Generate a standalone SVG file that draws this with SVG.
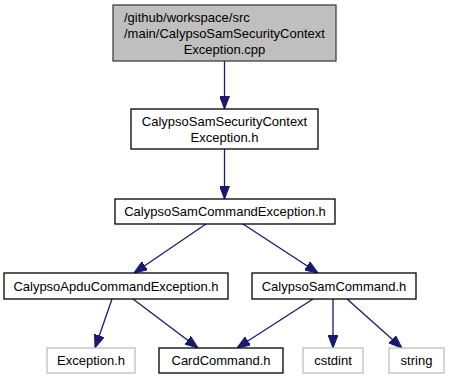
<svg xmlns="http://www.w3.org/2000/svg" width="449" height="380" viewBox="0 0 449 380">
  <defs>
    <style>
      .node rect { fill: #ffffff; stroke: #000000; stroke-width: 1.3; }
      .node.main rect { fill: #bfbfbf; stroke: #404040; }
      .node.ext rect { stroke: #bfbfbf; }
      .node text { font-family: "Liberation Sans", Arial, sans-serif; font-size: 13px; fill: #000000; }
      .c { text-anchor: middle; }
      .edges path { fill: none; stroke: #191970; stroke-width: 1.3; }
    </style>
    <marker id="arrow" viewBox="0 0 13 10" refX="13" refY="5" markerWidth="13" markerHeight="10" markerUnits="userSpaceOnUse" orient="auto">
      <path d="M0,0 L13,5 L0,10 Z" fill="#191970" stroke="#191970"/>
    </marker>
  </defs>
  <rect width="449" height="380" fill="#ffffff"/>

  <g class="edges">
    <path d="M224.5,61 L224.5,109" marker-end="url(#arrow)"/>
    <path d="M224.5,149 L224.5,199" marker-end="url(#arrow)"/>
    <path d="M206,224 L134,273" marker-end="url(#arrow)"/>
    <path d="M243,224 L318,273" marker-end="url(#arrow)"/>
    <path d="M112,299 L95,348" marker-end="url(#arrow)"/>
    <path d="M133,299 L198,348" marker-end="url(#arrow)"/>
    <path d="M313,299 L237,348" marker-end="url(#arrow)"/>
    <path d="M333,299 L333,348" marker-end="url(#arrow)"/>
    <path d="M347,299 L402,348" marker-end="url(#arrow)"/>
  </g>

  <g id="node-main" class="node main">
    <rect x="113" y="5" width="223" height="56"/>
    <text x="124" y="22">/github/workspace/src</text>
    <text x="124" y="38">/main/CalypsoSamSecurityContext</text>
    <text x="224.5" y="54" class="c">Exception.cpp</text>
  </g>
  <g id="node-security-context" class="node">
    <rect x="131" y="109" width="187" height="40"/>
    <text x="224.5" y="126" class="c">CalypsoSamSecurityContext</text>
    <text x="224.5" y="142" class="c">Exception.h</text>
  </g>
  <g id="node-sam-command-exception" class="node">
    <rect x="115" y="199" width="220" height="25"/>
    <text x="225" y="216" class="c">CalypsoSamCommandException.h</text>
  </g>
  <g id="node-apdu-command-exception" class="node">
    <rect x="4" y="273" width="224" height="26"/>
    <text x="116" y="290.5" class="c">CalypsoApduCommandException.h</text>
  </g>
  <g id="node-sam-command" class="node">
    <rect x="252" y="273" width="164" height="26"/>
    <text x="334" y="290.5" class="c">CalypsoSamCommand.h</text>
  </g>
  <g id="node-exception" class="node ext">
    <rect x="47" y="348" width="88" height="25"/>
    <text x="91" y="365" class="c">Exception.h</text>
  </g>
  <g id="node-card-command" class="node">
    <rect x="159" y="348" width="124" height="25"/>
    <text x="221" y="365" class="c">CardCommand.h</text>
  </g>
  <g id="node-cstdint" class="node ext">
    <rect x="303" y="348" width="60" height="25"/>
    <text x="333" y="365" class="c">cstdint</text>
  </g>
  <g id="node-string" class="node ext">
    <rect x="389" y="348" width="55" height="25"/>
    <text x="416.5" y="365" class="c">string</text>
  </g>
</svg>
